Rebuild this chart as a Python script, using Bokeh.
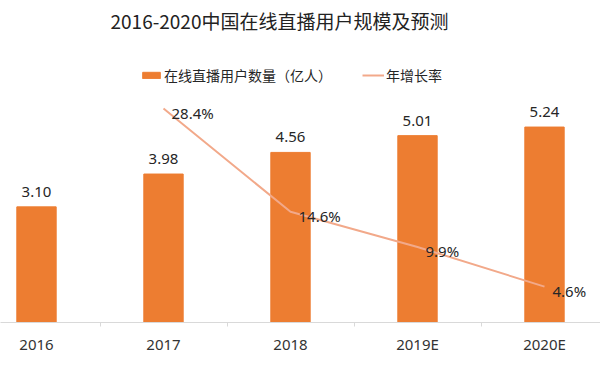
from bokeh.plotting import figure
from bokeh.models import (ColumnDataSource, Range1d, FixedTicker,
                          LabelSet, Label, Legend, LegendItem)
from bokeh.core.properties import value
from bokeh.embed import file_html
from bokeh.resources import INLINE

# ---- data ----
categories = ["2016", "2017", "2018", "2019E", "2020E"]
users = [3.10, 3.98, 4.56, 5.01, 5.24]            # 在线直播用户数量（亿人）
user_labels = ["3.10", "3.98", "4.56", "5.01", "5.24"]
rate_categories = ["2017", "2018", "2019E", "2020E"]
rates = [28.4, 14.6, 9.9, 4.6]                     # 年增长率 (%)
rate_labels = ["28.4%", "14.6%", "9.9%", "4.6%"]

title_text = "2016-2020中国在线直播用户规模及预测"
bar_name = "在线直播用户数量（亿人）"
line_name = "年增长率"

FONT = "Noto Sans CJK SC"
NUM_FONT = "Noto Sans"
BAR_COLOR = "#ED7D31"
LINE_COLOR = "#F2A98A"

xs = list(range(len(categories)))
rate_xs = [categories.index(c) for c in rate_categories]

bar_src = ColumnDataSource(dict(x=xs, y=users, lab=user_labels))
rate_src = ColumnDataSource(dict(x=rate_xs, y=rates, lab=rate_labels))

W, H = 600, 366
FRAME_H = 322
px_per_cat = 127.0
x_start = -36.0 / px_per_cat
x_end = x_start + W / px_per_cat

p = figure(width=W, height=H, output_backend="svg", toolbar_location=None,
           x_range=Range1d(x_start, x_end),
           y_range=Range1d(0, FRAME_H / 37.3),
           min_border_left=0, min_border_right=0, min_border_top=0,
           min_border_bottom=H - FRAME_H)
p.extra_y_ranges = {"rate": Range1d(-0.2, -0.2 + FRAME_H / 7.48)}
p.outline_line_color = None
p.grid.visible = False
p.background_fill_color = "white"
p.border_fill_color = "white"

bars = p.vbar(x="x", top="y", width=0.31, source=bar_src, color=BAR_COLOR)
line = p.line(x="x", y="y", source=rate_src, y_range_name="rate",
              line_color=LINE_COLOR, line_width=2)

# axes
p.yaxis.visible = False
xa = p.xaxis[0]
xa.ticker = FixedTicker(ticks=xs, minor_ticks=[i + 0.5 for i in xs[:-1]])
xa.major_label_overrides = {i: c for i, c in zip(xs, categories)}
xa.axis_line_color = "#D9D9D9"
xa.major_tick_line_color = None
xa.major_tick_in = 0
xa.major_tick_out = 0
xa.minor_tick_line_color = "#D9D9D9"
xa.minor_tick_in = 0
xa.minor_tick_out = 4
xa.major_label_standoff = 7
xa.major_label_text_font = NUM_FONT
xa.major_label_text_font_size = "15px"
xa.major_label_text_color = "#333333"

# data labels
p.add_layout(LabelSet(x="x", y="y", text="lab", source=bar_src,
                      text_align="center", text_baseline="alphabetic",
                      y_offset=10, text_font=value(NUM_FONT),
                      text_font_size=value("15px"), text_color="#262626"))
p.add_layout(LabelSet(x="x", y="y", text="lab", source=rate_src,
                      y_range_name="rate",
                      text_align="left", text_baseline="middle",
                      x_offset=8, y_offset=-4, text_font=value(NUM_FONT),
                      text_font_size=value("15px"), text_color="#262626"))

# title
p.add_layout(Label(x=110, y=FRAME_H - 20, x_units="screen", y_units="screen",
                   text=title_text, text_font=FONT, text_font_size="19px",
                   text_color="#222222", text_baseline="middle",
                   text_align="left"))

# legend
legend = Legend(items=[LegendItem(label=bar_name, renderers=[bars]),
                       LegendItem(label=line_name, renderers=[line])],
                orientation="horizontal", location=(140, FRAME_H - 85),
                glyph_width=22, glyph_height=8, label_standoff=2, spacing=30,
                padding=0, margin=0, border_line_color=None,
                background_fill_alpha=0, label_text_font=FONT,
                label_text_font_size="14px", label_text_color="#262626",
                label_height=20)
p.add_layout(legend, "center")

open("out.html", "w").write(file_html(p, INLINE))
